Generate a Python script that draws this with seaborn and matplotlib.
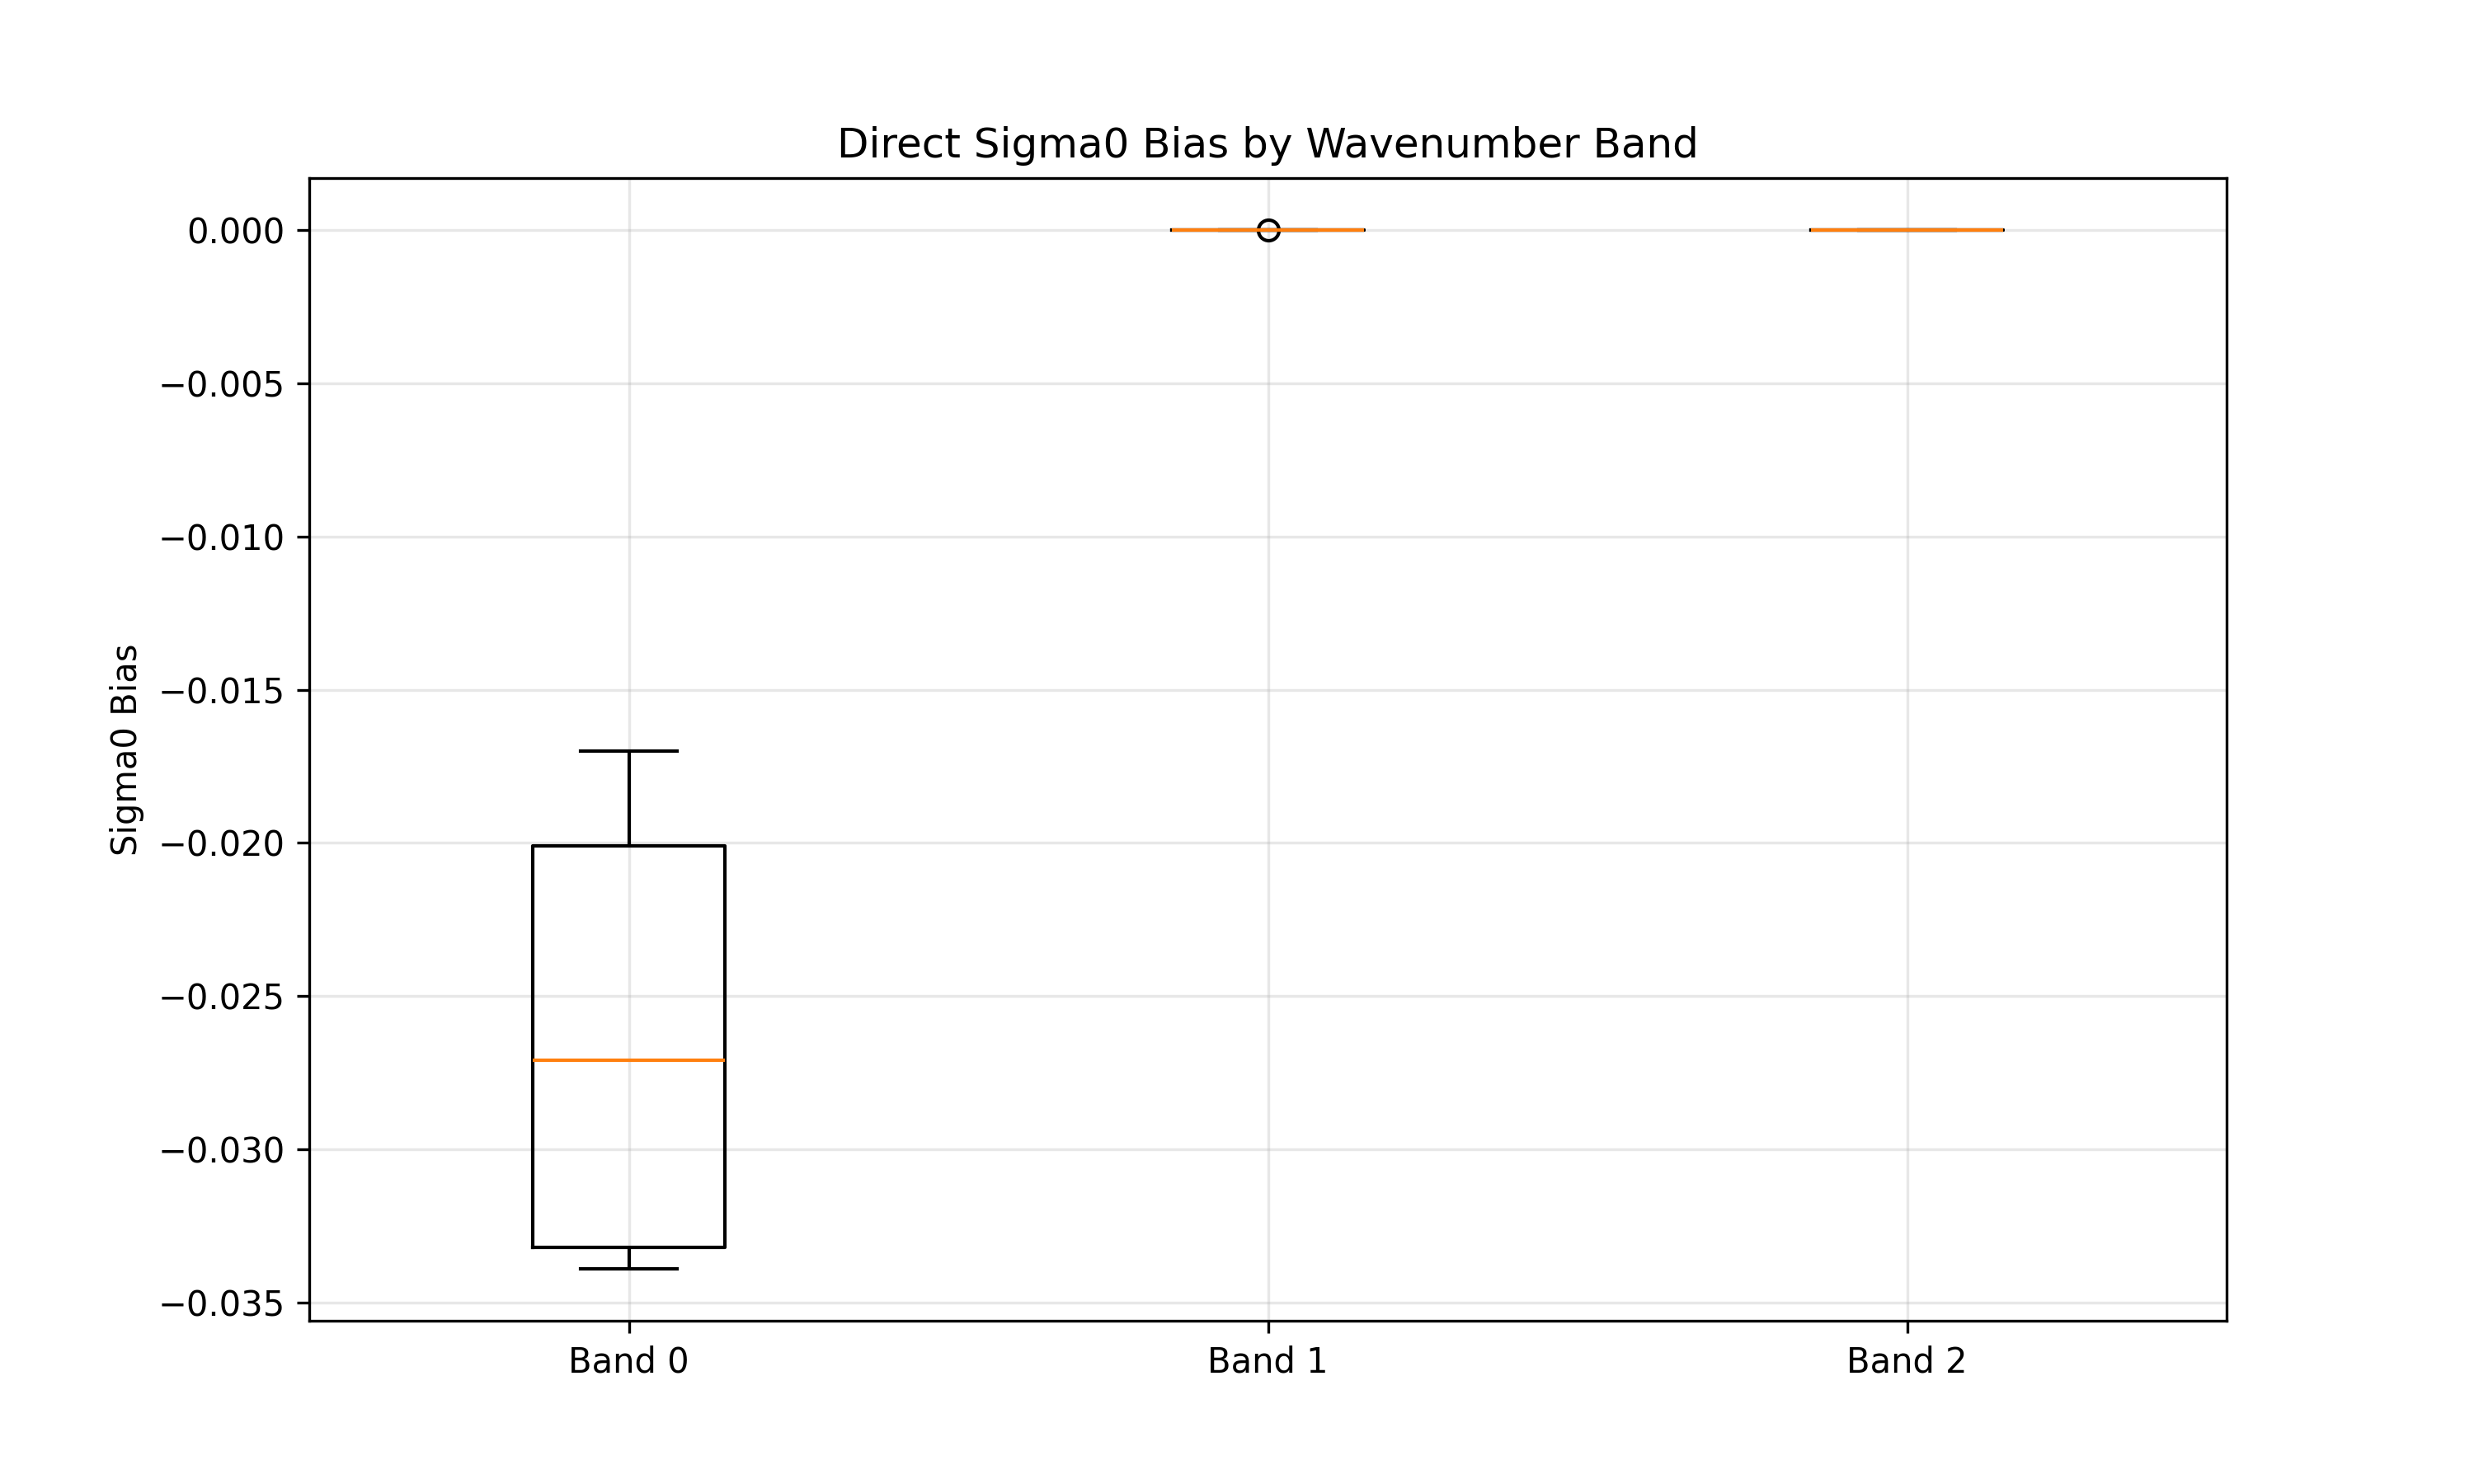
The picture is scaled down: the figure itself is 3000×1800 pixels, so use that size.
import matplotlib
matplotlib.use("Agg")
import matplotlib.pyplot as plt
import seaborn as sns
import pandas as pd

bands = ["Band 0", "Band 1", "Band 2"]
band0 = [-0.0339, -0.0332, -0.0332, -0.0271, -0.0201, -0.0201, -0.0170]
band1 = [0.0, 0.0, 0.0, 0.0, 0.0, 0.0, -0.000005]
band2 = [0.0, 0.0, 0.0, 0.0, 0.0, 0.0, 0.0]

rows = []
for name, vals in zip(bands, [band0, band1, band2]):
    for v in vals:
        rows.append({"band": name, "bias": v})
df = pd.DataFrame(rows)

fig, ax = plt.subplots(figsize=(10, 6), dpi=300)
sns.boxplot(data=df, x="band", y="bias", order=bands, ax=ax, width=0.3,
            fill=False, color="black", linewidth=1,
            medianprops=dict(color="#ff7f0e", linewidth=1),
            flierprops=dict(marker="o", markerfacecolor="none",
                            markeredgecolor="black", markersize=6))
ax.set_title("Direct Sigma0 Bias by Wavenumber Band")
ax.set_ylabel("Sigma0 Bias")
ax.set_xlabel("")
ax.grid(True, alpha=0.3)
ax.set_axisbelow(True)
fig.savefig("out.png", dpi=300)
